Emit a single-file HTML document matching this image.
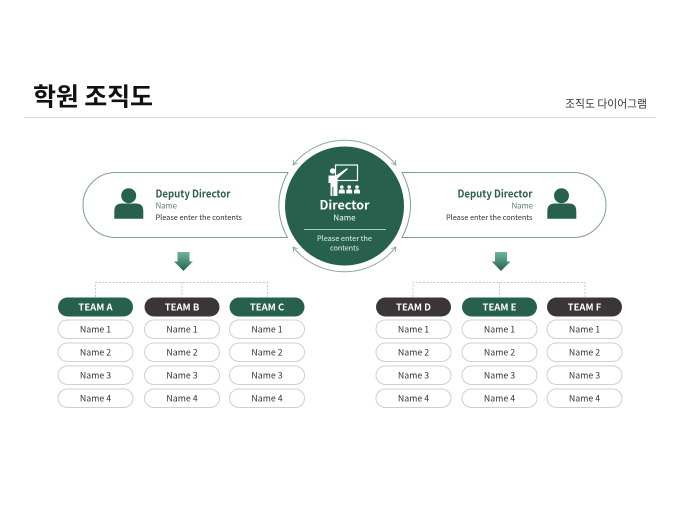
<!DOCTYPE html>
<html><head><meta charset="utf-8"><style>
html,body{margin:0;padding:0;background:#fff;width:680px;height:510px;overflow:hidden}
svg{display:block}
text{font-family:"Noto Sans CJK KR","Liberation Sans",sans-serif}
.n{font-size:8.8px;fill:#333;text-anchor:middle}
.t{font-size:9.5px;font-weight:700;fill:#fff;text-anchor:middle}
.r{fill:#fff;stroke:#cfcfcf;stroke-width:1}
</style></head><body>
<svg width="680" height="510" viewBox="0 0 680 510" xmlns="http://www.w3.org/2000/svg">
<defs>
<linearGradient id="g" x1="0" y1="0" x2="0" y2="1"><stop offset="0" stop-color="#6bb89c"/><stop offset="1" stop-color="#27614e"/></linearGradient>
<marker id="a" viewBox="0 0 8 8" refX="6" refY="4" markerWidth="7" markerHeight="7" orient="auto-start-reverse"><path d="M1 1L6 4L1 7" fill="none" stroke="#8aa99e" stroke-width="1"/></marker>
</defs>
<text x="33" y="105.5" font-size="25" font-weight="700" fill="#111" textLength="120" lengthAdjust="spacing">학원 조직도</text>
<text x="647" y="107.5" font-size="10.8" fill="#333" text-anchor="end">조직도 다이어그램</text>
<line x1="24" y1="117.5" x2="656" y2="117.5" stroke="#d9d9d9"/>

<path d="M288 172.5H115.5A32.5 32.5 0 0 0 115.5 237.5H287.5Q270 205 288 172.5Z" fill="#fff" stroke="#7f9f94" stroke-width="1"/>
<path d="M402 172.5H573.5A32.5 32.5 0 0 1 573.5 237.5H402Q419 205 402 172.5Z" fill="#fff" stroke="#7f9f94" stroke-width="1"/>

<circle cx="344.5" cy="206" r="59.5" fill="#27614e"/>
<path d="M293 165A66 66 0 0 1 396 165" fill="none" stroke="#8aa99e" marker-start="url(#a)" marker-end="url(#a)"/>
<path d="M293 247A66 66 0 0 0 396 247" fill="none" stroke="#8aa99e" marker-start="url(#a)" marker-end="url(#a)"/>

<rect x="335.5" y="165" width="22" height="15.5" fill="none" stroke="#fff" stroke-width="1.2"/>
<circle cx="332.7" cy="171" r="2.8" fill="#fff"/>
<path d="M328.5 175.5H336L347 168L347.8 169.2L337.5 178.5V196H333.3V187H332.3V196H330.5V183H328.5Z" fill="#fff"/>
<g fill="#fff">
<circle cx="341.8" cy="187" r="1.8"/><path d="M338.8 193.5V191Q338.8 189.3 341.8 189.3Q344.8 189.3 344.8 191V193.5Z"/>
<circle cx="349.2" cy="187" r="1.8"/><path d="M346.2 193.5V191Q346.2 189.3 349.2 189.3Q352.2 189.3 352.2 191V193.5Z"/>
<circle cx="357" cy="187" r="1.8"/><path d="M354 193.5V191Q354 189.3 357 189.3Q360 189.3 360 191V193.5Z"/>
</g>
<text x="344.5" y="209.5" font-size="12.5" font-weight="700" fill="#fff" text-anchor="middle">Director</text>
<text x="344.5" y="220.5" font-size="8" fill="#fff" text-anchor="middle">Name</text>
<line x1="304" y1="229.5" x2="386" y2="229.5" stroke="#dfe9e5" stroke-width="0.8"/>
<text x="317" y="241" font-size="7.4" fill="#e6efec" textLength="55">Please enter the</text>
<text x="330" y="250.5" font-size="7.4" fill="#e6efec" textLength="29">contents</text>

<g fill="#27614e">
<circle cx="128.7" cy="195.7" r="7.5"/>
<path d="M114.3 218.7V211Q114.3 203.5 122 203.5H136Q143.3 203.5 143.3 211V218.7Z"/>
<circle cx="561.5" cy="195.7" r="7.5"/>
<path d="M547.3 218.7V211Q547.3 203.5 555 203.5H569Q576.3 203.5 576.3 211V218.7Z"/>
</g>
<text x="155.5" y="197.5" font-size="10.3" font-weight="700" fill="#2d5f50" textLength="75" lengthAdjust="spacingAndGlyphs">Deputy Director</text>
<text x="155.5" y="208.5" font-size="8" fill="#5d8175" textLength="21.5">Name</text>
<text x="155.5" y="220" font-size="7.4" fill="#333" textLength="86.5">Please enter the contents</text>
<text x="457.5" y="197.5" font-size="10.3" font-weight="700" fill="#2d5f50" textLength="75" lengthAdjust="spacingAndGlyphs">Deputy Director</text>
<text x="511.5" y="208.5" font-size="8" fill="#5d8175" textLength="21.5">Name</text>
<text x="446" y="220" font-size="7.4" fill="#333" textLength="86.5">Please enter the contents</text>

<path d="M177.5 252H189.5V261.5H192.8L183.5 271L174 261.5H177.5Z" fill="url(#g)"/>
<path d="M495 252H507V261.5H510.5L501 271L491.7 261.5H495Z" fill="url(#g)"/>

<g fill="none" stroke="#c9c9c9" stroke-width="1" stroke-dasharray="2 1.5">
<path d="M95.5 297V282.5H267.5V297M182 282.5V297"/>
<path d="M413 297V282.5H585V297M499.5 282.5V297"/>
</g>

<g id="teams">
<rect x="58" y="297.5" width="75" height="19" rx="9.5" fill="#27614e"/><text class="t" x="95.5" y="310.5">TEAM A</text>
<rect x="144.5" y="297.5" width="75" height="19" rx="9.5" fill="#3b3635"/><text class="t" x="182" y="310.5">TEAM B</text>
<rect x="229.5" y="297.5" width="75" height="19" rx="9.5" fill="#27614e"/><text class="t" x="267" y="310.5">TEAM C</text>
<rect x="376" y="297.5" width="75" height="19" rx="9.5" fill="#3b3635"/><text class="t" x="413.5" y="310.5">TEAM D</text>
<rect x="462" y="297.5" width="75" height="19" rx="9.5" fill="#27614e"/><text class="t" x="499.5" y="310.5">TEAM E</text>
<rect x="547" y="297.5" width="75" height="19" rx="9.5" fill="#3b3635"/><text class="t" x="584.5" y="310.5">TEAM F</text>
</g>

<g>
<rect class="r" x="58" y="320" width="75" height="18.5" rx="9.25"/><text class="n" x="95.5" y="332.5">Name 1</text>
<rect class="r" x="58" y="343" width="75" height="18.5" rx="9.25"/><text class="n" x="95.5" y="355.5">Name 2</text>
<rect class="r" x="58" y="366" width="75" height="18.5" rx="9.25"/><text class="n" x="95.5" y="378.5">Name 3</text>
<rect class="r" x="58" y="389" width="75" height="18.5" rx="9.25"/><text class="n" x="95.5" y="401.5">Name 4</text>
<rect class="r" x="144.5" y="320" width="75" height="18.5" rx="9.25"/><text class="n" x="182" y="332.5">Name 1</text>
<rect class="r" x="144.5" y="343" width="75" height="18.5" rx="9.25"/><text class="n" x="182" y="355.5">Name 2</text>
<rect class="r" x="144.5" y="366" width="75" height="18.5" rx="9.25"/><text class="n" x="182" y="378.5">Name 3</text>
<rect class="r" x="144.5" y="389" width="75" height="18.5" rx="9.25"/><text class="n" x="182" y="401.5">Name 4</text>
<rect class="r" x="229.5" y="320" width="75" height="18.5" rx="9.25"/><text class="n" x="267" y="332.5">Name 1</text>
<rect class="r" x="229.5" y="343" width="75" height="18.5" rx="9.25"/><text class="n" x="267" y="355.5">Name 2</text>
<rect class="r" x="229.5" y="366" width="75" height="18.5" rx="9.25"/><text class="n" x="267" y="378.5">Name 3</text>
<rect class="r" x="229.5" y="389" width="75" height="18.5" rx="9.25"/><text class="n" x="267" y="401.5">Name 4</text>
<rect class="r" x="376" y="320" width="75" height="18.5" rx="9.25"/><text class="n" x="413.5" y="332.5">Name 1</text>
<rect class="r" x="376" y="343" width="75" height="18.5" rx="9.25"/><text class="n" x="413.5" y="355.5">Name 2</text>
<rect class="r" x="376" y="366" width="75" height="18.5" rx="9.25"/><text class="n" x="413.5" y="378.5">Name 3</text>
<rect class="r" x="376" y="389" width="75" height="18.5" rx="9.25"/><text class="n" x="413.5" y="401.5">Name 4</text>
<rect class="r" x="462" y="320" width="75" height="18.5" rx="9.25"/><text class="n" x="499.5" y="332.5">Name 1</text>
<rect class="r" x="462" y="343" width="75" height="18.5" rx="9.25"/><text class="n" x="499.5" y="355.5">Name 2</text>
<rect class="r" x="462" y="366" width="75" height="18.5" rx="9.25"/><text class="n" x="499.5" y="378.5">Name 3</text>
<rect class="r" x="462" y="389" width="75" height="18.5" rx="9.25"/><text class="n" x="499.5" y="401.5">Name 4</text>
<rect class="r" x="547" y="320" width="75" height="18.5" rx="9.25"/><text class="n" x="584.5" y="332.5">Name 1</text>
<rect class="r" x="547" y="343" width="75" height="18.5" rx="9.25"/><text class="n" x="584.5" y="355.5">Name 2</text>
<rect class="r" x="547" y="366" width="75" height="18.5" rx="9.25"/><text class="n" x="584.5" y="378.5">Name 3</text>
<rect class="r" x="547" y="389" width="75" height="18.5" rx="9.25"/><text class="n" x="584.5" y="401.5">Name 4</text>
</g>
</svg>
</body></html>
